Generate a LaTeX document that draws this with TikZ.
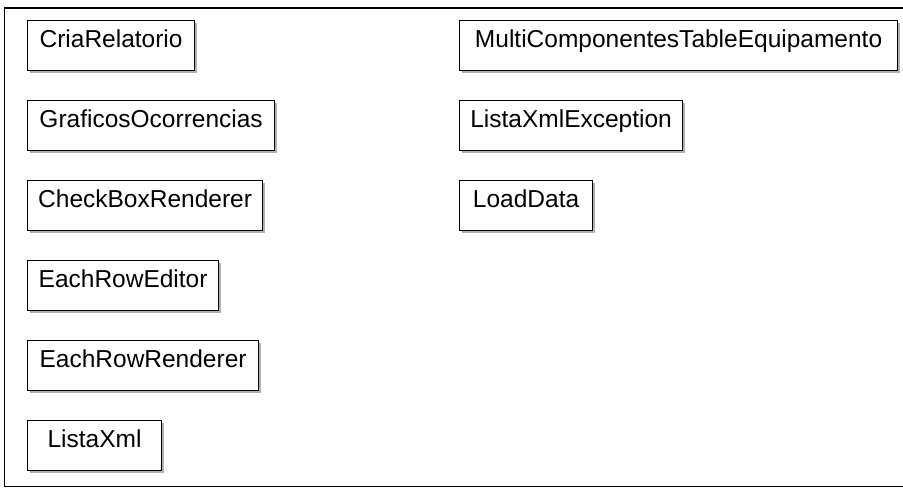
\documentclass[tikz,border=0pt]{standalone}
\usepackage{fontspec}
\setmainfont{Liberation Sans}
\usetikzlibrary{shadows}
\tikzset{
  cls/.style={draw=black, line width=1.2pt, fill=white, anchor=north west,
    inner sep=0pt, text height=27pt, text depth=23pt, minimum height=50pt,
    align=center, font=\fontsize{24.5}{28}\selectfont,
    drop shadow={shadow xshift=2.5pt, shadow yshift=-2.5pt, fill=black, opacity=0.3}},
  frame/.style={draw=black, line width=1.8pt}
}
\begin{document}
\begin{tikzpicture}[x=1pt,y=-1pt]
\useasboundingbox (0,0) rectangle (903,489);
\clip (0,0) rectangle (903,489);
\fill[white] (0,0) rectangle (903,489);
\coordinate (ftr) at (912,8);
\coordinate (ftl) at (4.5,8);
\coordinate (fbl) at (4.5,486.5);
\coordinate (fbr) at (912,486.5);
\draw[frame] (ftr) -- (ftl) -- (fbl) -- (fbr);
\node[cls, minimum width=167pt] (cria) at (27,20) {CriaRelatorio};
\node[cls, minimum width=247pt] (graf) at (27,100) {GraficosOcorrencias};
\node[cls, minimum width=235pt] (check) at (27,180) {CheckBoxRenderer};
\node[cls, minimum width=191pt] (editor) at (27,260) {EachRowEditor};
\node[cls, minimum width=231pt] (renderer) at (27,340) {EachRowRenderer};
\node[cls, minimum width=134pt] (lista) at (27,420) {ListaXml};
\node[cls, minimum width=438pt] (multi) at (459,20) {MultiComponentesTableEquipamento};
\node[cls, minimum width=223pt] (listaexc) at (459,100) {ListaXmlException};
\node[cls, minimum width=133pt] (load) at (459,180) {LoadData};
\end{tikzpicture}
\end{document}
